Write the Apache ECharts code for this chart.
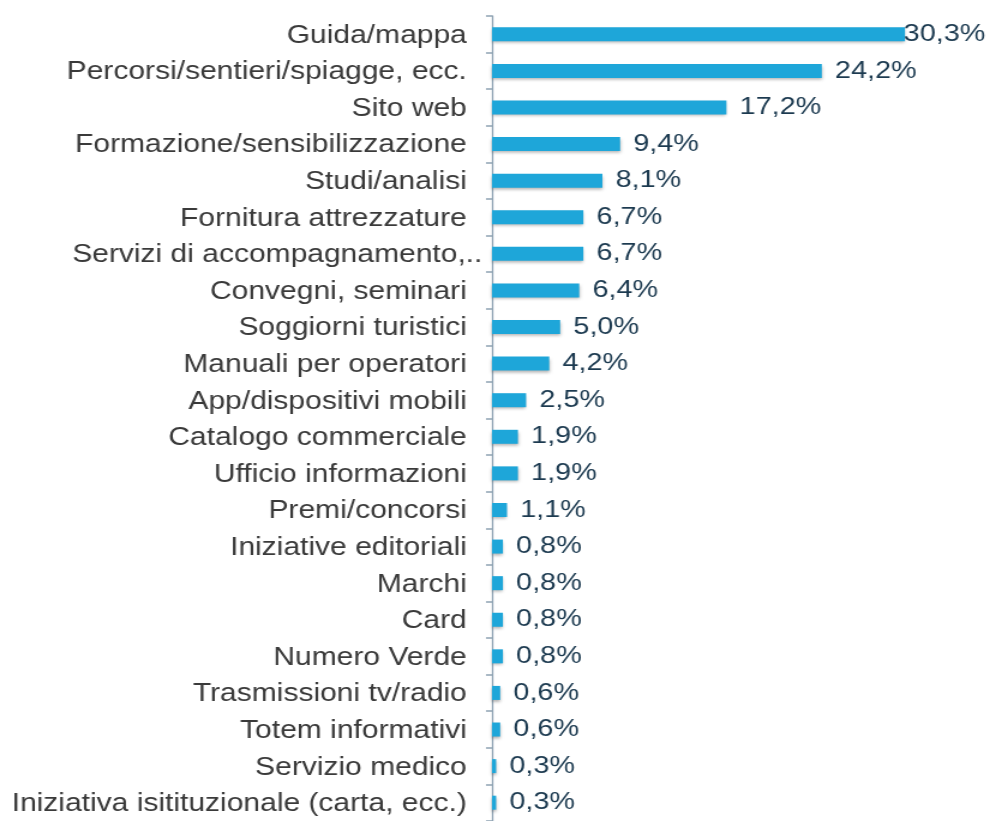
<!DOCTYPE html>
<html>
<head>
<meta charset="utf-8">
<script src="https://cdn.jsdelivr.net/npm/echarts@6/dist/echarts.min.js"></script>
<style>
  html, body { margin: 0; padding: 0; background: #fff; overflow: hidden; }
  /* the source picture is stretched sideways, so the chart is drawn narrow and widened */
  #chart { width: 828px; height: 821px; transform: scaleX(1.2); transform-origin: 0 0; }
</style>
</head>
<body>
<div id="chart"></div>
<script>
const categories = [
  'Guida/mappa',
  'Percorsi/sentieri/spiagge, ecc.',
  'Sito web',
  'Formazione/sensibilizzazione',
  'Studi/analisi',
  'Fornitura attrezzature',
  'Servizi di accompagnamento,..',
  'Convegni, seminari',
  'Soggiorni turistici',
  'Manuali per operatori',
  'App/dispositivi mobili',
  'Catalogo commerciale',
  'Ufficio informazioni',
  'Premi/concorsi',
  'Iniziative editoriali',
  'Marchi',
  'Card',
  'Numero Verde',
  'Trasmissioni tv/radio',
  'Totem informativi',
  'Servizio medico',
  'Iniziativa isitituzionale (carta, ecc.)'
]
const shares = [30.3, 24.2, 17.2, 9.4, 8.1, 6.7, 6.7, 6.4, 5.0, 4.2, 2.5, 1.9, 1.9, 1.1, 0.8, 0.8, 0.8, 0.8, 0.6, 0.6, 0.3, 0.3]

const chart = echarts.init(document.getElementById('chart'))

const fontFamily = '"Liberation Sans", Arial, sans-serif'
const labelText = { color: '#3a3a3a', fontSize: 25, fontFamily: fontFamily }

chart.setOption({
  animation: false,
  backgroundColor: '#ffffff',
  grid: { left: 410, top: 16, width: 397.5, height: 810 },
  xAxis: {
    type: 'value',
    min: 0,
    max: 35,
    show: false
  },
  yAxis: {
    type: 'category',
    inverse: true,
    data: categories,
    axisLine: { lineStyle: { color: '#8ea3b3', width: 1.3 } },
    axisTick: { show: true, length: 5, lineStyle: { color: '#8ea3b3', width: 1.5 } },
    axisLabel: {
      margin: 21,
      ...labelText,
      padding: [3, 0, 0, 0],
      // the cut-off label's dots run past the others, over the axis
      formatter: v => v.endsWith(',..')
        ? '{a|' + v.slice(0, -2) + '}{b|..}'
        : v,
      rich: {
        a: { ...labelText },
        b: { ...labelText, align: 'left', padding: [0, -13, 0, 0] }
      }
    }
  },
  series: [{
    type: 'bar',
    barWidth: 14,
    data: shares.map((v, i) => i === 0
      ? { value: v, label: { distance: -1 } }
      : v),
    itemStyle: {
      color: '#1ea6d9',
      shadowColor: 'rgba(0,0,0,0.3)',
      shadowBlur: 3,
      shadowOffsetY: 2
    },
    label: {
      show: true,
      position: 'right',
      distance: 11,
      color: '#1c3a50',
      fontSize: 24,
      fontFamily: fontFamily,
      padding: [3, 0, 0, 0],
      formatter: p => p.value.toFixed(1).replace('.', ',') + '%'
    }
  }]
})
</script>
</body>
</html>
